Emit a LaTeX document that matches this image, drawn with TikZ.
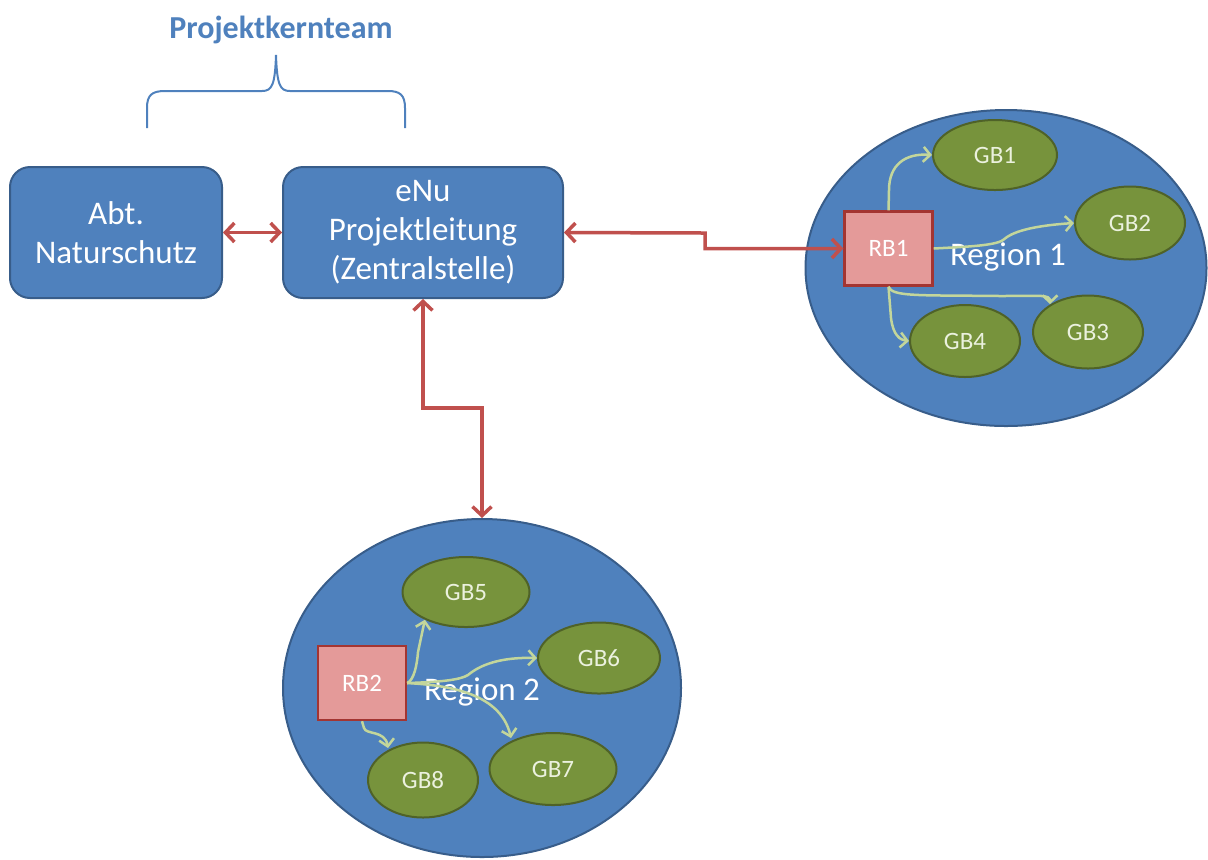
\documentclass[tikz,border=0pt]{standalone}
\usepackage{fontspec}
\setmainfont{Carlito}
\usetikzlibrary{shapes.geometric,arrows.meta}
\definecolor{boxblue}{HTML}{4F81BD}
\definecolor{boxedge}{HTML}{385D8A}
\definecolor{redline}{HTML}{C0504D}
\definecolor{rbfill}{HTML}{E49A99}
\definecolor{rbedge}{HTML}{A33532}
\definecolor{gbfill}{HTML}{77933C}
\definecolor{gbedge}{HTML}{4F6228}
\definecolor{gbtext}{HTML}{EBF1DE}
\definecolor{greenline}{HTML}{C3D69B}
\tikzset{
  mainbox/.style={draw=boxedge,line width=1pt,fill=boxblue,rounded corners=10pt,inner sep=0pt,
    text=white,align=center,font=\fontsize{16.5}{19.5}\selectfont},
  regionell/.style={ellipse,draw=boxedge,line width=1pt,fill=boxblue,inner sep=0pt},
  rbbox/.style={draw=rbedge,line width=1.2pt,fill=rbfill,inner sep=0pt,text=white,
    minimum width=44pt,minimum height=37pt,font=\fontsize{12.5}{14}\selectfont},
  gbell/.style={ellipse,draw=gbedge,line width=1pt,fill=gbfill,inner sep=0pt,text=gbtext,
    font=\fontsize{12.5}{14}\selectfont},
  regionlabel/.style={text=white,font=\fontsize{16.5}{19}\selectfont,inner sep=0pt},
  redarr/.style={draw=redline,line width=1.75pt,{Straight Barb[length=4.5pt,width=9.5pt]}-{Straight Barb[length=4.5pt,width=9.5pt]}},
  greenarr/.style={draw=greenline,line width=1.25pt,-{Straight Barb[length=3.5pt,width=7.5pt]}},
}
\begin{document}
\begin{tikzpicture}[x=0.5pt,y=-0.5pt]
\useasboundingbox (0,0) rectangle (1208,859);
% title and brace
\node[text=boxblue,font=\fontsize{16}{19}\selectfont\bfseries] (title) at (281,30) {Projektkernteam};
\draw[boxblue,line width=1pt] (147,128) -- (147,108) .. controls (147,95) and (152,91) .. (165,91)
  -- (262,91) .. controls (272,91) and (275,85) .. (276,55)
  .. controls (277,85) and (280,91) .. (290,91) -- (388,91)
  .. controls (400,91) and (405,95) .. (405,108) -- (405,128);
% main boxes
\node[mainbox,minimum width=106pt,minimum height=65.5pt] (abt) at (116,232.5) {Abt.\\Naturschutz};
\node[mainbox,minimum width=140pt,minimum height=65.5pt] (enu) at (423,232.5) {eNu\\Projektleitung\\(Zentralstelle)};
% regions
\node[regionell,minimum width=200.5pt,minimum height=158pt] (reg1) at (1006,268) {};
\node[regionell,minimum width=199pt,minimum height=169pt] (reg2) at (482,688) {};
\node[regionlabel] (r1lab) at (1008,257) {Region 1};
\node[regionlabel] (r2lab) at (482,692) {Region 2};
% region 1 content
\node[rbbox] (rb1) at (888.5,248.5) {RB1};
\node[gbell,minimum width=62pt,minimum height=35pt] (gb1) at (995,155) {GB1};
\node[gbell,minimum width=55pt,minimum height=36.5pt] (gb2) at (1130,223) {GB2};
\node[gbell,minimum width=55pt,minimum height=36.5pt] (gb3) at (1088,332) {GB3};
\node[gbell,minimum width=55pt,minimum height=36pt] (gb4) at (965,341) {GB4};
% region 2 content
\node[rbbox] (rb2) at (362,683) {RB2};
\node[gbell,minimum width=63.5pt,minimum height=35pt] (gb5) at (466,592) {GB5};
\node[gbell,minimum width=61pt,minimum height=35.5pt] (gb6) at (599,658) {GB6};
\node[gbell,minimum width=63.5pt,minimum height=36pt] (gb7) at (553,769) {GB7};
\node[gbell,minimum width=55pt,minimum height=37.5pt] (gb8) at (423,780) {GB8};
% red connectors
\coordinate (k1) at (705,233);
\coordinate (k2) at (423,408);
\draw[redarr] (abt.east) -- (enu.west);
\draw[redarr] (enu.east) -- (k1) |- (rb1.west);
\draw[redarr] (enu.south) -- (k2) -| (reg2.north);
% green connectors region 1
\draw[greenarr] (rb1.north) -- (889,190) .. controls (889,165) and (905,153) .. (gb1.west);
\draw[greenarr] (rb1.east) .. controls (960,247) and (995,246) .. (1003,240)
  .. controls (1012,232) and (1030,226) .. (gb2.west);
\draw[greenarr] (rb1.south) .. controls (892,297) and (920,295) .. (1000,296)
  .. controls (1040,296) and (1050,294) .. (1050,304);
\draw[greenarr] (rb1.south) -- (891,318) .. controls (893,335) and (900,340) .. (gb4.west);
% green connectors region 2
\draw[greenarr] (rb2.east) .. controls (414,680) and (417,665) .. (418,652) -- (gb5.214);
\draw[greenarr] (rb2.east) .. controls (440,682) and (460,680) .. (468,675)
  .. controls (480,665) and (500,657) .. (gb6.west);
\draw[greenarr] (rb2.east) .. controls (440,685) and (500,690) .. (511,738);
\draw[greenarr] (rb2.south) -- (364,728) .. controls (366,735) and (385,730) .. (388,748);
\end{tikzpicture}
\end{document}
